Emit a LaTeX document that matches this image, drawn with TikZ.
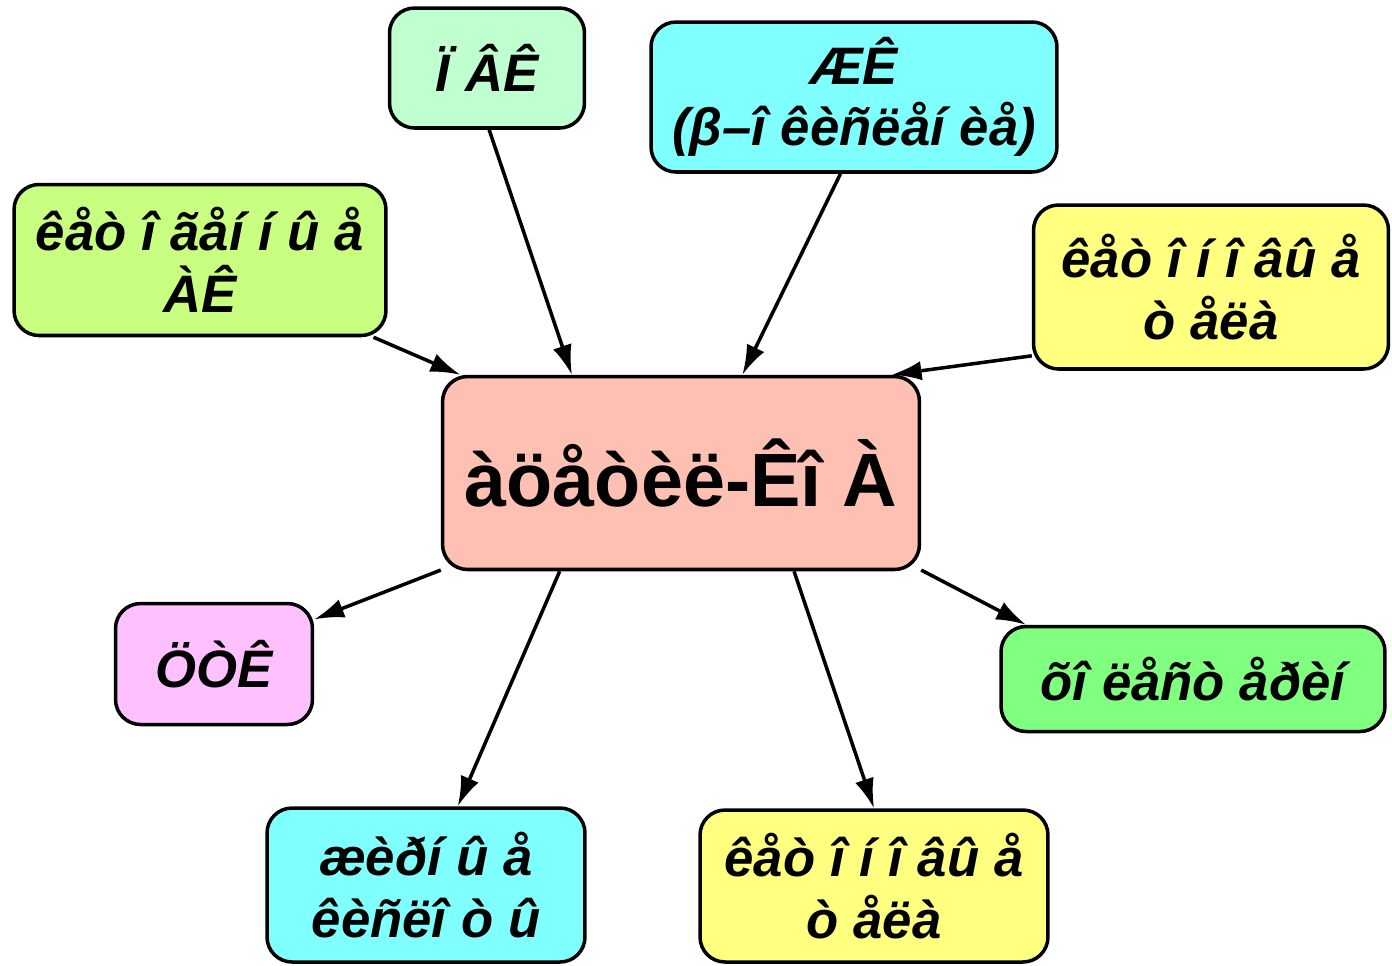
\documentclass[tikz,border=0pt]{standalone}
\usepackage{fontspec}
\setmainfont{Liberation Sans}
\usetikzlibrary{arrows.meta}
\definecolor{mint}{RGB}{192,255,208}
\definecolor{aqua}{RGB}{128,255,255}
\definecolor{lime}{RGB}{200,255,128}
\definecolor{lemon}{RGB}{255,255,128}
\definecolor{salmon}{RGB}{255,192,180}
\definecolor{orchid}{RGB}{255,192,255}
\definecolor{grass}{RGB}{128,255,128}

\begin{document}
\begin{tikzpicture}[x=0.02cm,y=-0.02cm,
  box/.style={draw,line width=2pt,rounded corners=0.5cm,align=center,inner sep=2pt,
    font=\fontsize{30}{35}\selectfont\bfseries\itshape},
  arr/.style={line width=2pt,-{Latex[length=17pt,width=11pt]}}]
  \useasboundingbox (0,0) rectangle (1392,965);
  % centre
  \node[box,fill=salmon,minimum width=9.54cm,minimum height=3.86cm,
    font=\fontsize{43}{50}\selectfont\bfseries] (acoa) at (681,473) {àöåòèë-Êî À};
  % sources
  \node[box,fill=mint,minimum width=3.9cm,minimum height=2.4cm] (pvk) at (487,68) {Ï ÂÊ};
  \node[box,fill=aqua,minimum width=8.12cm,minimum height=3cm] (zhk) at (854,97) {ÆÊ\\(β–î êèñëåí èå)};
  \node[box,fill=lime,minimum width=7.44cm,minimum height=3.02cm] (ketog) at (200,260) {êåò î ãåí í û å\\ÀÊ};
  \node[box,fill=lemon,minimum width=7.1cm,minimum height=3.28cm] (ketR) at (1211,287) {êåò î í î âû å\\ò åëà};
  % products
  \node[box,fill=orchid,minimum width=3.94cm,minimum height=2.42cm] (ctk) at (214,664) {ÖÒÊ};
  \node[box,fill=grass,minimum width=7.68cm,minimum height=2.1cm] (chol) at (1193,679) {õî ëåñò åðèí};
  \node[box,fill=aqua,minimum width=6.36cm,minimum height=3.08cm] (fat) at (426,885) {æèðí û å\\êèñëî ò û};
  \node[box,fill=lemon,minimum width=6.96cm,minimum height=3.04cm] (ketB) at (874,886) {êåò î í î âû å\\ò åëà};
  % arrows in
  \draw[arr] (ketog.-24.5) -- (acoa.156.9);
  \draw[arr] (pvk.-88.1) -- (acoa.138.2);
  \draw[arr] (zhk.-100.6) -- (acoa.58.6);
  \draw[arr] (ketR.-159.7) -- (acoa.25.1);
  % arrows out
  \draw[arr] (acoa.-158.5) -- (ctk.24.7);
  \draw[arr] (acoa.-141.9) -- (fat.68.7);
  \draw[arr] (acoa.-41.3) -- (ketB.90.7);
  \draw[arr] (acoa.-22.9) -- (chol.162.4);
\end{tikzpicture}
\end{document}
